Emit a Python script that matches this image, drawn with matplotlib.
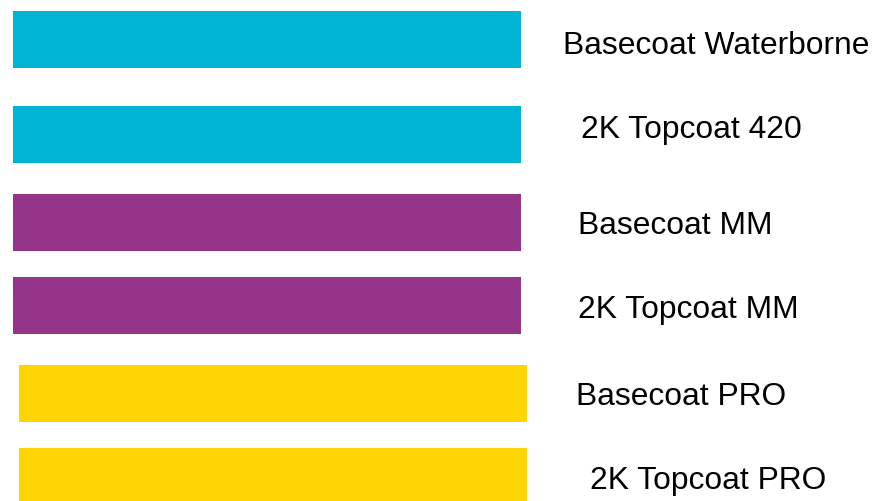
import matplotlib
matplotlib.use('Agg')
import matplotlib.pyplot as plt

# product lines, top to bottom
labels = ['Basecoat Waterborne', '2K Topcoat 420', 'Basecoat MM',
          '2K Topcoat MM', 'Basecoat PRO', '2K Topcoat PRO']
bar_lengths = [508, 508, 508, 508, 508, 508]
bar_starts = [13, 13, 13, 13, 19, 19]
colors = ['#00B4D5', '#00B4D5', '#963489', '#963489', '#FFD400', '#FFD400']

# layout in pixel units (figure is 878x502)
bar_tops = [11.5, 106.5, 194.5, 277.5, 365.5, 448.5]
bar_height = 57.5
label_x = [563, 581, 578, 578, 576, 590]
label_baseline = [54, 138, 234, 318, 405, 489]

plt.rcParams['font.family'] = ['Liberation Sans', 'DejaVu Sans']

fig = plt.figure(figsize=(8.78, 5.02), dpi=100)
ax = fig.add_axes([0, 0, 1, 1])
ax.set_xlim(0, 878)
ax.set_ylim(502, 0)
ax.axis('off')

centers = [t + bar_height / 2 for t in bar_tops]
ax.barh(centers, bar_lengths, left=bar_starts, height=bar_height,
        color=colors, linewidth=0)

for x, y, txt in zip(label_x, label_baseline, labels):
    ax.text(x, y, txt, fontsize=22.9, color='black',
            ha='left', va='baseline')

fig.savefig('out.png', dpi=100)
